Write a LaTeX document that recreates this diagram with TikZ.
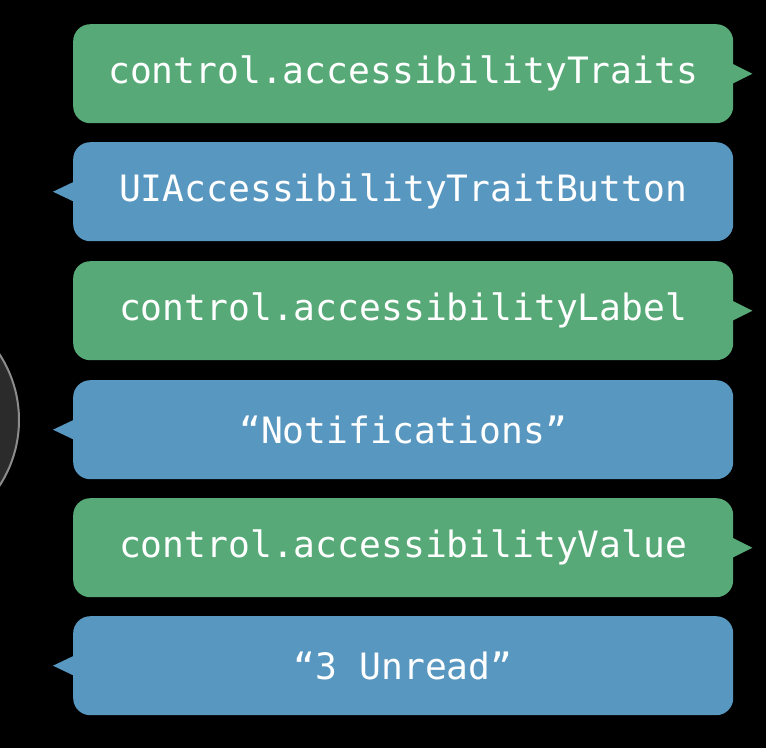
\documentclass[tikz,border=0pt]{standalone}
\usepackage{fontspec}
\newfontfamily\monofont{DejaVu Sans Mono}
\definecolor{bubgreen}{HTML}{57AA77}
\definecolor{bubblue}{HTML}{5897BF}
\definecolor{circfill}{HTML}{2B2B2B}
\definecolor{circline}{HTML}{8C8C8C}
\newcommand{\bubtext}[1]{\raisebox{-2.5pt}{#1}}
\begin{document}
\begin{tikzpicture}[x=1pt,y=-1pt,
  bubble/.style={rounded corners=17pt, minimum width=660pt, minimum height=99pt,
    inner sep=0pt, text=white, font=\monofont\fontsize{36.3}{40}\selectfont, anchor=north west},
  gbub/.style={bubble, fill=bubgreen},
  bbub/.style={bubble, fill=bubblue}]
\fill[black] (0,0) rectangle (766,748);
\useasboundingbox (0,0) rectangle (766,748);
\clip (0,0) rectangle (766,748);
\draw[circline, fill=circfill, line width=2pt] (-101.5,420) circle[radius=120.5pt];
\node[gbub] (b1) at (73,24) {\bubtext{control.accessibilityTraits}};
\node[bbub] (b2) at (73,142) {\bubtext{UIAccessibilityTraitButton}};
\node[gbub] (b3) at (73,261) {\bubtext{control.accessibilityLabel}};
\node[bbub] (b4) at (73,380) {\bubtext{“Notifications”}};
\node[gbub] (b5) at (73,498) {\bubtext{control.accessibilityValue}};
\node[bbub] (b6) at (73,616) {\bubtext{“3 Unread”}};
\foreach \n in {b1,b3,b5}{
  \fill[bubgreen] ([xshift=-1pt,yshift=10pt]\n.east) -- ([xshift=19pt]\n.east) -- ([xshift=-1pt,yshift=-10pt]\n.east) -- cycle;
}
\foreach \n in {b2,b4,b6}{
  \fill[bubblue] ([xshift=1pt,yshift=10pt]\n.west) -- ([xshift=-20pt]\n.west) -- ([xshift=1pt,yshift=-10pt]\n.west) -- cycle;
}
\end{tikzpicture}
\end{document}
